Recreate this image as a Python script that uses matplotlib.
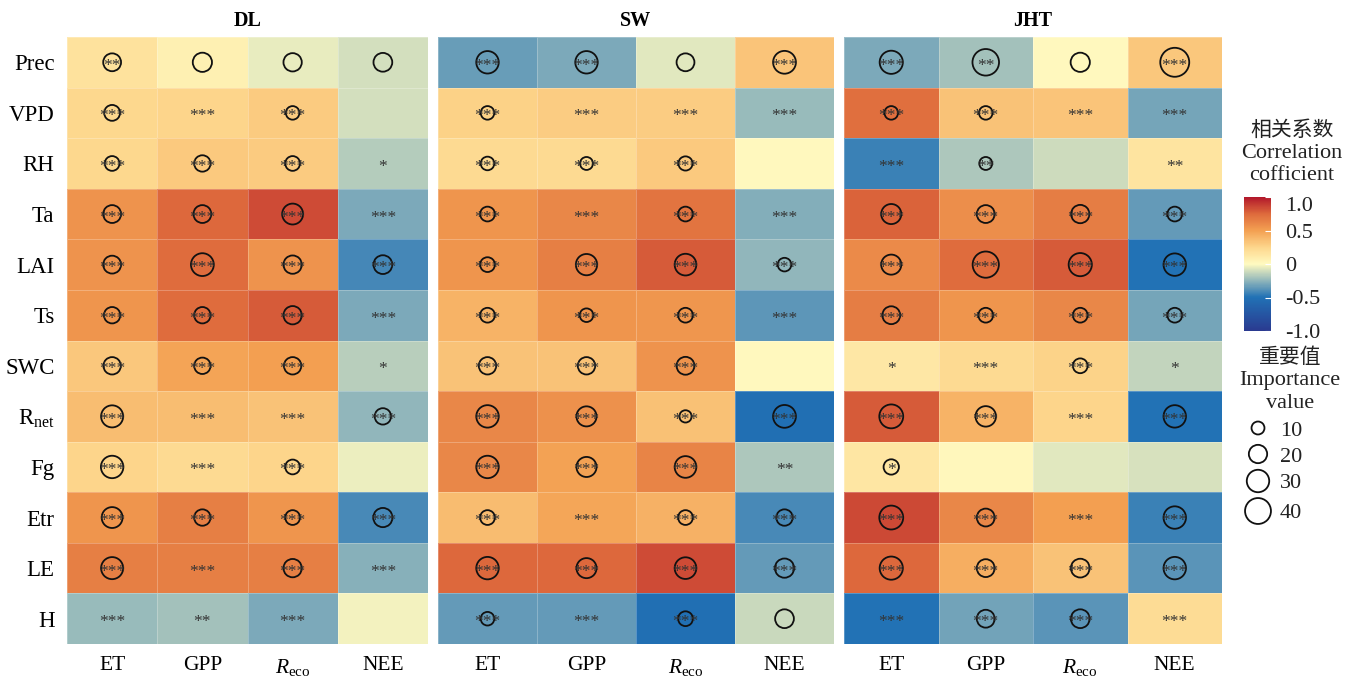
import numpy as np
import matplotlib
matplotlib.use("Agg")
import matplotlib.pyplot as plt
from matplotlib.colors import LinearSegmentedColormap, Normalize
from matplotlib.cm import ScalarMappable

plt.rcParams['font.family'] = ['Liberation Serif', 'DejaVu Serif']
plt.rcParams['mathtext.fontset'] = 'custom'
plt.rcParams['mathtext.rm'] = 'Liberation Serif'
plt.rcParams['mathtext.it'] = 'Liberation Serif:italic'

# ---------------- data ----------------
sites = ["DL", "SW", "JHT"]
factors = ["Prec", "VPD", "RH", "Ta", "LAI", "Ts", "SWC", "Rnet", "Fg", "Etr", "LE", "H"]
factor_labels = ["Prec", "VPD", "RH", "Ta", "LAI", "Ts", "SWC",
                 r"$\mathrm{R}_{\mathrm{net}}$", "Fg", "Etr", "LE", "H"]
targets = ["ET", "GPP", "Reco", "NEE"]
target_labels = ["ET", "GPP", r"$\mathit{R}_{\mathrm{eco}}$", "NEE"]

# correlation coefficients (rows = factors, cols = ET, GPP, Reco, NEE)
corr_DL = [
    [0.17, 0.07, -0.05, -0.10],
    [0.24, 0.25, 0.30, -0.10],
    [0.24, 0.31, 0.30, -0.17],
    [0.56, 0.75, 0.84, -0.29],
    [0.56, 0.74, 0.56, -0.42],
    [0.55, 0.74, 0.79, -0.29],
    [0.32, 0.48, 0.50, -0.16],
    [0.36, 0.36, 0.34, -0.25],
    [0.25, 0.22, 0.25, -0.04],
    [0.55, 0.65, 0.55, -0.41],
    [0.65, 0.65, 0.65, -0.27],
    [-0.23, -0.21, -0.29, -0.03],
]
corr_SW = [
    [-0.34, -0.29, -0.07, 0.33],
    [0.27, 0.29, 0.29, -0.23],
    [0.22, 0.22, 0.31, 0.01],
    [0.55, 0.61, 0.70, -0.28],
    [0.55, 0.65, 0.79, -0.25],
    [0.41, 0.55, 0.54, -0.36],
    [0.34, 0.34, 0.56, 0.01],
    [0.61, 0.57, 0.35, -0.52],
    [0.61, 0.49, 0.63, -0.18],
    [0.37, 0.47, 0.42, -0.41],
    [0.75, 0.75, 0.84, -0.35],
    [-0.35, -0.35, -0.52, -0.12],
]
corr_JHT = [
    [-0.29, -0.21, 0.01, 0.32],
    [0.72, 0.34, 0.33, -0.31],
    [-0.44, -0.18, -0.11, 0.15],
    [0.77, 0.58, 0.66, -0.35],
    [0.60, 0.74, 0.79, -0.50],
    [0.66, 0.55, 0.61, -0.31],
    [0.13, 0.22, 0.26, -0.14],
    [0.79, 0.41, 0.25, -0.50],
    [0.14, 0.02, -0.07, -0.09],
    [0.85, 0.61, 0.50, -0.44],
    [0.75, 0.43, 0.34, -0.37],
    [-0.50, -0.32, -0.37, 0.21],
]

# importance values (0 = not shown)
imp_DL = [
    [19, 22, 20, 21],
    [15, 0, 11, 0],
    [13, 16, 13, 0],
    [19, 19, 26, 0],
    [19, 31, 20, 21],
    [16, 16, 20, 0],
    [18, 16, 18, 0],
    [29, 0, 0, 16],
    [30, 0, 13, 0],
    [26, 16, 13, 22],
    [29, 0, 20, 0],
    [0, 0, 0, 0],
]
imp_SW = [
    [30, 30, 19, 31],
    [11, 0, 0, 0],
    [11, 10, 12, 0],
    [13, 0, 13, 0],
    [13, 27, 28, 11],
    [13, 11, 13, 0],
    [18, 18, 19, 0],
    [30, 24, 9, 31],
    [30, 24, 28, 0],
    [13, 0, 13, 16],
    [30, 24, 28, 22],
    [11, 0, 13, 21],
]
imp_JHT = [
    [32, 42, 22, 50],
    [11, 11, 0, 0],
    [0, 10, 0, 0],
    [24, 19, 20, 13],
    [24, 41, 32, 30],
    [19, 13, 13, 13],
    [0, 0, 13, 0],
    [34, 25, 0, 30],
    [14, 0, 0, 0],
    [34, 19, 0, 30],
    [32, 19, 21, 30],
    [0, 19, 21, 0],
]

# significance marks
sig_DL = [
    ["**", "", "", ""],
    ["***", "***", "***", ""],
    ["***", "***", "***", "*"],
    ["***", "***", "***", "***"],
    ["***", "***", "***", "***"],
    ["***", "***", "***", "***"],
    ["***", "***", "***", "*"],
    ["***", "***", "***", "***"],
    ["***", "***", "***", ""],
    ["***", "***", "***", "***"],
    ["***", "***", "***", "***"],
    ["***", "**", "***", ""],
]
sig_SW = [
    ["***", "***", "", "***"],
    ["***", "***", "***", "***"],
    ["***", "***", "***", ""],
    ["***", "***", "***", "***"],
    ["***", "***", "***", "***"],
    ["***", "***", "***", "***"],
    ["***", "***", "***", ""],
    ["***", "***", "***", "***"],
    ["***", "***", "***", "**"],
    ["***", "***", "***", "***"],
    ["***", "***", "***", "***"],
    ["***", "***", "***", ""],
]
sig_JHT = [
    ["***", "**", "", "***"],
    ["***", "***", "***", "***"],
    ["***", "**", "", "**"],
    ["***", "***", "***", "***"],
    ["***", "***", "***", "***"],
    ["***", "***", "***", "***"],
    ["*", "***", "***", "*"],
    ["***", "***", "***", "***"],
    ["*", "", "", ""],
    ["***", "***", "***", "***"],
    ["***", "***", "***", "***"],
    ["***", "***", "***", "***"],
]

legend_values = [10, 20, 30, 40]
cbar_ticks = [-1.0, -0.5, 0.0, 0.5, 1.0]
cbar_ticklabels = ["-1.0", "-0.5", "0", "0.5", "1.0"]

# ---------------- style ----------------
cmap = LinearSegmentedColormap.from_list("corr", [
    (0.0, "#2A3A90"),
    (0.25, "#2171B5"),
    (0.5, "#FFFAC0"),
    (0.625, "#FDD68C"),
    (0.75, "#F3A052"),
    (0.875, "#DE6A3C"),
    (1.0, "#B2182B"),
])
norm = Normalize(vmin=-1, vmax=1)
SIZE_K = 8.7  # scatter area (pt^2) per importance unit

W, H = 1360, 677
fig = plt.figure(figsize=(W / 100, H / 100), dpi=100)

panel_px = [(67, 428), (438, 834), (844, 1222)]
top_px, bot_px = 37, 644

corr_all = [corr_DL, corr_SW, corr_JHT]
imp_all = [imp_DL, imp_SW, imp_JHT]
sig_all = [sig_DL, sig_SW, sig_JHT]

nrow, ncol = len(factors), len(targets)
for k, site in enumerate(sites):
    l, r = panel_px[k]
    ax = fig.add_axes([l / W, (H - bot_px) / H, (r - l) / W, (bot_px - top_px) / H])
    C = np.array(corr_all[k])
    ax.pcolormesh(np.arange(ncol + 1) - 0.5, np.arange(nrow + 1) - 0.5, C,
                  cmap=cmap, norm=norm, edgecolors=(1, 1, 1, 0.25), linewidth=0.4)
    ax.set_xlim(-0.5, ncol - 0.5)
    ax.set_ylim(nrow - 0.5, -0.5)
    I = np.array(imp_all[k], dtype=float)
    yy, xx = np.nonzero(I)
    ax.scatter(xx, yy, s=I[yy, xx] * SIZE_K, facecolors="none",
               edgecolors="#111111", linewidths=1.3, zorder=3)
    S = sig_all[k]
    for i in range(nrow):
        for j in range(ncol):
            if S[i][j]:
                ax.text(j, i + 0.07, S[i][j], ha="center", va="center",
                        fontsize=12.5, color="#333333", zorder=4)
    for sp in ax.spines.values():
        sp.set_visible(False)
    ax.set_xticks(range(ncol))
    ax.set_xticklabels(target_labels, fontsize=15.5)
    ax.tick_params(axis="x", length=0, pad=9)
    ax.tick_params(axis="y", length=0, pad=9)
    if k == 0:
        ax.set_yticks(range(nrow))
        ax.set_yticklabels(factor_labels, fontsize=16.5)
    else:
        ax.set_yticks([])
    ax.set_title(site, fontsize=14.5, fontweight="bold", pad=8)

# colorbar
cax = fig.add_axes([1244 / W, (H - 331) / H, 27 / W, 134 / H])
cb = fig.colorbar(ScalarMappable(norm=norm, cmap=cmap), cax=cax, ticks=cbar_ticks)
cb.outline.set_visible(False)
cb.set_ticklabels(cbar_ticklabels)
cax.tick_params(direction="in", length=4, width=0.8, colors="white",
                labelcolor="#222222", labelsize=16, pad=10)
for lab, t in zip(cax.get_yticklabels(), cbar_ticks):
    if t == 1.0:
        lab.set_va("top")

# overlay for legend texts and size legend
ov = fig.add_axes([0, 0, 1, 1], facecolor="none")
ov.set_xlim(0, W)
ov.set_ylim(H, 0)
ov.axis("off")
cjk = ["Noto Sans CJK SC", "DejaVu Sans"]
ov.text(1292, 130, "相关系数", ha="center", va="center", fontsize=15, family=cjk, color="#222222")
ov.text(1292, 153, "Correlation", ha="center", va="center", fontsize=16, color="#222222")
ov.text(1292, 176, "cofficient", ha="center", va="center", fontsize=16, color="#222222")
ov.text(1290, 357, "重要值", ha="center", va="center", fontsize=15, family=cjk, color="#222222")
ov.text(1290, 381, "Importance", ha="center", va="center", fontsize=16, color="#222222")
ov.text(1290, 404, "value", ha="center", va="center", fontsize=16, color="#222222")
leg_y = [428, 454, 481, 511]
for v, y in zip(legend_values, leg_y):
    ov.scatter([1258], [y], s=v * SIZE_K, facecolors="none", edgecolors="#111111", linewidths=1.3)
    ov.text(1280, y + 3, str(v), ha="left", va="center", fontsize=16, color="#222222")

fig.savefig("out.png", dpi=100)
